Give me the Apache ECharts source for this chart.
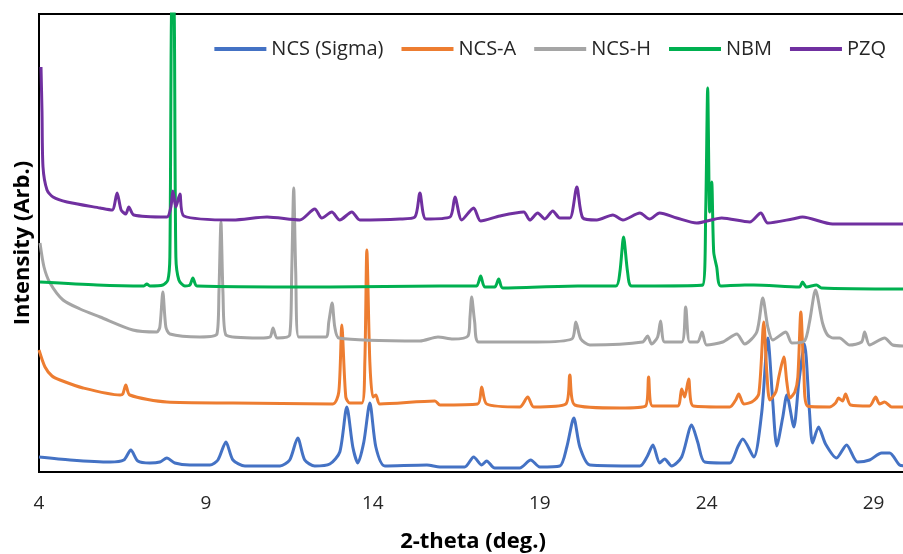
<!DOCTYPE html>
<html>
<head>
<meta charset="utf-8">
<script src="https://cdn.jsdelivr.net/npm/echarts@6/dist/echarts.min.js"></script>
<style>
html,body{margin:0;padding:0;background:#fff;}
#chart{width:903px;height:554px;}
</style>
</head>
<body>
<div id="chart"></div>
<script>
// Series names (legend order)
const seriesNames = ["NCS (Sigma)", "NCS-A", "NCS-H", "NBM", "PZQ"];
const xTicks = [4, 9, 14, 19, 24, 29];

// NCS (Sigma) – 2θ (deg.) and intensity (arb., stacked offset as plotted)
const ncsSigmaX = [4.00,4.93,6.13,6.54,6.75,6.96,7.32,7.62,7.83,8.07,8.52,9.12,9.36,9.60,9.81,10.17,11.22,11.51,11.75,11.96,12.26,12.71,13.01,13.22,13.40,13.55,13.73,13.91,14.09,14.36,15.62,16.01,16.75,17.02,17.26,17.41,17.65,18.40,18.73,19.00,19.60,19.81,20.02,20.20,20.50,22.00,22.21,22.39,22.59,22.74,22.95,23.25,23.55,23.73,23.94,24.69,24.93,25.08,25.41,25.65,25.83,25.98,26.10,26.28,26.40,26.61,26.76,26.93,27.08,27.17,27.35,27.56,27.89,28.19,28.52,28.88,29.24,29.48,29.78,30.00];
const ncsSigmaY = [15,12,10,12,22,11,9,10,14,9,7,7,12,30,12,6,6,12,34,12,6,8,20,65,25,9,30,69,25,6,7,5,5,15,7,11,4,4,12,5,6,25,54,25,7,6,15,27,9,13,6,15,47,30,10,9,25,33,15,60,134,70,26,55,77,45,90,128,60,29,45,28,14,27,10,12,19,19,7,6];

// NCS-A
const ncsAX = [4.00,4.18,4.39,4.63,5.32,6.43,6.51,6.60,6.72,7.83,9.81,12.80,12.98,13.07,13.19,13.31,13.67,13.76,13.82,13.91,14.00,14.09,14.21,15.86,16.01,17.14,17.26,17.41,18.40,18.64,18.82,19.78,19.90,20.05,21.40,22.17,22.26,22.38,23.13,23.25,23.34,23.46,23.60,24.69,24.87,24.96,25.11,25.35,25.56,25.71,25.80,25.89,26.07,26.16,26.31,26.40,26.49,26.64,26.73,26.82,26.91,27.02,27.68,27.86,27.95,28.07,28.16,28.31,28.88,29.06,29.18,29.33,29.54,30.00];
const ncsAY = [122,105,96,92,84,77,78,87,77,70,69,68,80,147,75,69,69,110,222,110,75,77,68,71,67,68,85,68,65,75,65,68,97,67,64,66,95,66,66,83,75,93,66,65,72,78,68,70,78,150,100,72,80,95,115,90,74,80,95,160,100,66,65,69,74,71,78,67,66,75,68,70,65,65];

// NCS-H
const ncsHX = [4.03,4.15,4.33,4.72,5.23,5.83,6.81,7.53,7.62,7.71,7.80,7.92,8.82,9.33,9.39,9.45,9.51,9.60,10.62,10.92,11.01,11.13,11.51,11.57,11.63,11.69,11.78,12.59,12.68,12.78,12.86,12.98,15.41,15.95,16.40,16.85,16.91,16.96,17.05,17.17,18.91,19.96,20.08,20.23,20.50,22.08,22.23,22.35,22.53,22.62,22.74,23.25,23.37,23.49,23.73,23.86,24.00,24.48,24.90,25.14,25.50,25.68,25.83,25.98,26.37,26.55,26.93,27.08,27.26,27.47,27.62,27.80,27.98,28.28,28.64,28.73,28.88,29.33,29.57,30.00];
const ncsHY = [229,205,189,172,163,155,142,140,145,180,145,138,135,138,180,250,180,137,134,135,144,134,137,200,284,200,135,135,150,169,145,134,131,135,133,136,155,175,150,130,130,133,150,133,127,130,136,128,135,151,130,130,165,130,130,140,127,130,138,128,140,174,145,132,140,129,131,150,182,149,137,134,134,127,130,140,127,134,127,126];

// NBM
const nbmX = [4.03,5.74,7.14,7.23,7.32,7.71,7.86,7.92,7.98,8.04,8.10,8.19,8.37,8.52,8.61,8.73,12.71,16.01,16.87,17.11,17.23,17.35,17.65,17.77,17.89,20.14,21.28,21.40,21.51,21.63,21.75,23.88,23.97,24.03,24.09,24.15,24.21,24.30,24.42,25.14,25.41,26.78,26.87,26.99,27.29,27.44,30.00];
const nbmY = [190,187,186,188,186,187,192,215,470,470,215,192,186,187,194,186,185,186,186,186,196,185,185,193,184,186,186,200,235,200,186,187,260,384,260,290,220,205,186,187,187,185,190,185,187,184,183];

// PZQ
const pzqX = [4.06,4.09,4.12,4.24,4.42,4.84,5.83,6.19,6.34,6.46,6.60,6.69,6.84,7.83,7.95,8.01,8.10,8.22,8.34,9.81,10.83,11.81,12.26,12.47,12.77,13.01,13.37,13.61,14.81,15.26,15.41,15.59,16.31,16.46,16.66,17.02,17.23,17.80,18.52,18.70,18.94,19.15,19.39,19.60,19.90,20.11,20.29,20.71,21.19,21.49,22.00,22.29,22.59,23.10,23.70,24.45,25.29,25.62,25.83,26.57,26.87,27.77,30.00];
const pzqY = [405,360,305,282,275,270,264,262,279,262,258,265,257,255,265,281,265,278,256,252,255,252,263,254,260,252,260,252,253,255,279,253,255,275,252,264,251,256,260,252,259,253,261,254,254,285,254,252,257,252,259,253,259,254,249,254,250,259,249,253,255,248,248];

const colors = ["#4472C4", "#ED7D31", "#A5A5A5", "#00B050", "#7030A0"];
const xs = [ncsSigmaX, ncsAX, ncsHX, nbmX, pzqX];
const ys = [ncsSigmaY, ncsAY, ncsHY, nbmY, pzqY];

const zip = (a, b) => a.map((v, i) => [v, b[i]]);

const chart = echarts.init(document.getElementById('chart'), null, {renderer: 'canvas'});
chart.setOption({
  animation: false,
  backgroundColor: '#ffffff',
  textStyle: {fontFamily: 'Open Sans'},
  legend: {
    data: seriesNames,
    top: 34,
    right: 12,
    icon: 'rect',
    itemWidth: 52,
    itemHeight: 4,
    itemGap: 18,
    textStyle: {fontSize: 20, color: '#262626', fontFamily: 'Open Sans'}
  },
  grid: {
    left: 39, top: 14, width: 868, height: 458,
    outerBoundsMode: 'none',
    containLabel: false,
    show: true, borderColor: '#000', borderWidth: 2, backgroundColor: 'transparent'
  },
  xAxis: {
    type: 'value', min: 4, max: 30, interval: 5,
    name: '2-theta (deg.)', nameLocation: 'middle', nameGap: 59,
    nameTextStyle: {fontSize: 22, fontWeight: 'bold', color: '#000', fontFamily: 'Open Sans'},
    axisLine: {show: true, lineStyle: {color: '#000', width: 2}},
    axisTick: {show: false},
    splitLine: {show: false},
    axisLabel: {showMaxLabel: false, margin: 22, fontSize: 19, color: '#262626', fontFamily: 'Open Sans'}
  },
  yAxis: {
    type: 'value', min: 0, max: 458,
    name: 'Intensity (Arb.)', nameLocation: 'middle', nameGap: 5, nameRotate: 90,
    nameTextStyle: {fontSize: 22, fontWeight: 'bold', color: '#000', fontFamily: 'Open Sans'},
    axisLine: {show: true, lineStyle: {color: '#000', width: 2}},
    axisTick: {show: false},
    axisLabel: {show: false},
    splitLine: {show: false}
  },
  series: seriesNames.map((n, i) => ({
    name: n,
    type: 'line',
    data: zip(xs[i], ys[i]),
    showSymbol: false,
    symbol: 'none',
    smooth: 0.25,
    clip: true,
    z: 2 + i,
    lineStyle: {color: colors[i], width: 3},
    itemStyle: {color: colors[i]}
  }))
});
</script>
</body>
</html>
